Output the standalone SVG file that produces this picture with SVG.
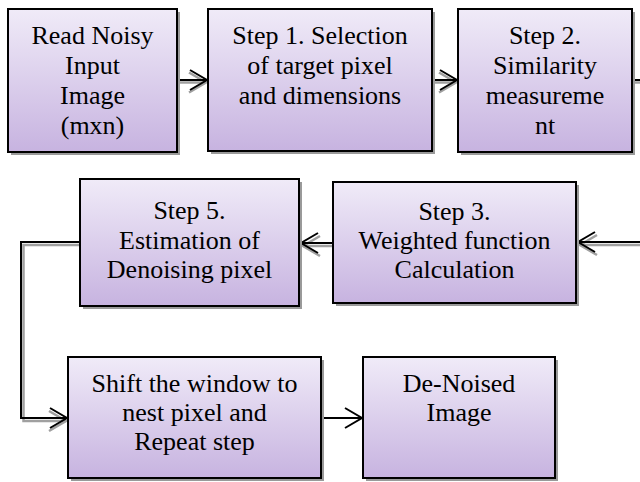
<svg xmlns="http://www.w3.org/2000/svg" width="640" height="482" viewBox="0 0 640 482">
<defs>
<linearGradient id="g" x1="0" y1="0" x2="0" y2="1">
<stop offset="0" stop-color="#f0ebf8"/>
<stop offset="1" stop-color="#c7b3e0"/>
</linearGradient>
<marker id="ah" markerUnits="userSpaceOnUse" markerWidth="22" markerHeight="24" refX="18" refY="11" orient="auto" overflow="visible">
<path d="M1,1 L18,11 L1,21" fill="none" stroke="#000" stroke-width="2"/>
</marker>
<marker id="ahs" markerUnits="userSpaceOnUse" markerWidth="22" markerHeight="24" refX="18" refY="11" orient="auto" overflow="visible">
<path d="M1,1 L18,11 L1,21" fill="none" stroke="#a0a0a0" stroke-width="2.5"/>
</marker>
</defs>
<style>
.box{fill:url(#g);stroke:#000;stroke-width:2}
.sh{fill:#9a9a9a}
.t{font-family:'Liberation Serif','Times New Roman',serif;font-size:26px;fill:#000;text-anchor:middle}
.c{fill:none;stroke:#000;stroke-width:2}
.cs{fill:none;stroke:#a0a0a0;stroke-width:2.5}
</style>
<g id="connectors">
<path class="cs" d="M177,82.5 L206,82.5" marker-end="url(#ahs)"/>
<path class="c" d="M177,80 L207,80" marker-end="url(#ah)"/>
<path class="cs" d="M432,82.5 L456,82.5" marker-end="url(#ahs)"/>
<path class="c" d="M432,80 L457,80" marker-end="url(#ah)"/>
<path class="cs" d="M632,82.5 L640,82.5"/>
<path class="c" d="M632,80 L640,80"/>
<path class="cs" d="M640,245 L580,245" marker-end="url(#ahs)"/>
<path class="c" d="M640,242 L578,242" marker-end="url(#ah)"/>
<path class="cs" d="M333,246 L303,246" marker-end="url(#ahs)"/>
<path class="c" d="M333,243 L301,243" marker-end="url(#ah)"/>
<path class="cs" d="M80,245 L23.5,245 L23.5,421 L66,421" marker-end="url(#ahs)"/>
<path class="c" d="M80,242 L21,242 L21,418 L67,418" marker-end="url(#ah)"/>
<path class="c" d="M321,418 L362,418" marker-end="url(#ah)"/>
</g>
<g id="n1">
<rect class="sh" x="11" y="12" width="169" height="143"/>
<rect class="box" x="8" y="9" width="169" height="143"/>
<text class="t" x="92.5" y="44">Read Noisy</text>
<text class="t" x="92.5" y="74">Input</text>
<text class="t" x="92.5" y="104">Image</text>
<text class="t" x="92.5" y="134">(mxn)</text>
</g>
<g id="n2">
<rect class="sh" x="211" y="12" width="224" height="142"/>
<rect class="box" x="208" y="9" width="224" height="142"/>
<text class="t" x="320" y="44">Step 1. Selection</text>
<text class="t" x="320" y="74">of target pixel</text>
<text class="t" x="320" y="104">and dimensions</text>
</g>
<g id="n3">
<rect class="sh" x="461" y="12" width="174" height="143"/>
<rect class="box" x="458" y="9" width="174" height="143"/>
<text class="t" x="545" y="44">Step 2.</text>
<text class="t" x="545" y="74">Similarity</text>
<text class="t" x="545" y="104">measureme</text>
<text class="t" x="545" y="134">nt</text>
</g>
<g id="n4">
<rect class="sh" x="336" y="185" width="243" height="121"/>
<rect class="box" x="333" y="182" width="243" height="121"/>
<text class="t" x="454.5" y="220">Step 3.</text>
<text class="t" x="454.5" y="249">Weighted function</text>
<text class="t" x="454.5" y="278">Calculation</text>
</g>
<g id="n5">
<rect class="sh" x="83" y="182" width="219" height="127"/>
<rect class="box" x="80" y="179" width="219" height="127"/>
<text class="t" x="189.5" y="219">Step 5.</text>
<text class="t" x="189.5" y="249">Estimation of</text>
<text class="t" x="189.5" y="278">Denoising pixel</text>
</g>
<g id="n6">
<rect class="sh" x="71" y="360" width="253" height="121"/>
<rect class="box" x="68" y="357" width="253" height="121"/>
<text class="t" x="194.5" y="392">Shift the window to</text>
<text class="t" x="194.5" y="421">nest pixel and</text>
<text class="t" x="194.5" y="450">Repeat step</text>
</g>
<g id="n7">
<rect class="sh" x="366" y="360" width="192" height="121"/>
<rect class="box" x="363" y="357" width="192" height="121"/>
<text class="t" x="459" y="392">De-Noised</text>
<text class="t" x="459" y="421">Image</text>
</g>
</svg>
